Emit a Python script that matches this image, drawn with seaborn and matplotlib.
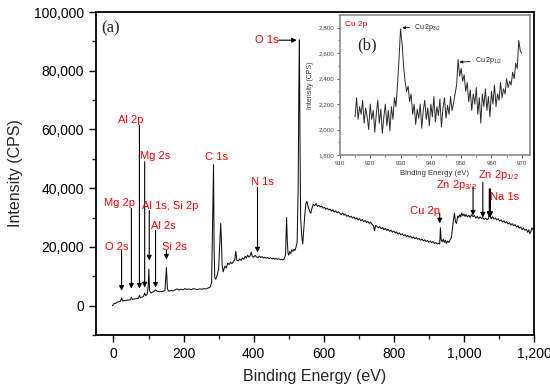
import numpy as np
import pandas as pd
import matplotlib
matplotlib.use("Agg")
import matplotlib.pyplot as plt
from matplotlib.ticker import FuncFormatter, MultipleLocator
import seaborn as sns

# ---------------- data ----------------
survey_be = [-3, 2, 6, 10, 15, 20, 23, 26, 32, 38, 44, 48, 51, 54, 60, 66, 71, 74, 77, 82, 86, 89, 92, 96, 99, 101, 103,
             107, 112, 116, 120, 124, 130, 136, 142, 147, 151, 154, 158, 164, 170, 176, 182, 186, 192, 198, 204, 210,
             216, 222, 228, 234, 240, 246, 252, 258, 264, 270, 276, 280, 283, 285.5, 287, 289, 292, 296, 300, 303, 306,
             308, 310, 313, 318, 322, 326, 330, 334, 338, 342, 346, 349, 352, 356, 360, 364, 368, 372, 376, 379, 383,
             386, 390, 393, 396, 400, 404, 408, 412, 416, 420, 424, 428, 432, 436, 440, 444, 448, 452, 456, 460, 464,
             468, 472, 476, 480, 484, 488, 491, 494, 496, 498, 500, 503, 506, 509, 512, 515, 518, 521, 524, 527, 529,
             530.5, 532, 534, 537, 540, 543, 546, 549, 552, 556, 560, 563, 566, 570, 574, 578, 582, 586, 590, 594, 598,
             602, 606, 610, 614, 618, 622, 626, 630, 634, 638, 642, 646, 650, 654, 658, 662, 666, 670, 674, 678, 682,
             686, 690, 694, 698, 702, 706, 710, 714, 718, 722, 726, 730, 734, 738, 742, 745, 748, 752, 756, 760, 764,
             768, 772, 776, 780, 784, 788, 792, 796, 800, 804, 808, 812, 816, 820, 824, 828, 832, 836, 840, 844, 848,
             852, 856, 860, 864, 868, 872, 876, 880, 884, 888, 892, 896, 900, 904, 908, 912, 916, 920, 924, 928, 931,
             933, 935, 938, 941, 944, 947, 950, 953, 957, 961, 964, 967, 970, 973, 976, 979, 982, 985, 988, 991, 994,
             997, 1000, 1003, 1006, 1010, 1014, 1018, 1022, 1026, 1030, 1034, 1038, 1042, 1046, 1050, 1054, 1058,
             1062, 1066, 1070, 1073, 1075, 1078, 1082, 1086, 1090, 1094, 1098, 1102, 1106, 1110, 1114, 1118, 1122,
             1126, 1130, 1134, 1138, 1142, 1146, 1150, 1154, 1158, 1162, 1166, 1170, 1174, 1178, 1182, 1185, 1188,
             1191, 1194, 1197, 1200]
survey_cps = [0, 800, 700, 1200, 1300, 1500, 2600, 1600, 1700, 1800, 1900, 2000, 2900, 2100, 2300, 2400, 2500, 3500,
              2700, 2900, 3200, 4300, 3400, 3900, 6500, 12500, 5000, 4300, 4600, 4900, 5400, 5000, 4700, 4800, 4900,
              5200, 13000, 5600, 4900, 5200, 5000, 5400, 5700, 5300, 5600, 5400, 5800, 5500, 5700, 5400, 5800, 5600,
              5500, 5700, 5600, 5800, 5700, 6000, 6300, 8000, 30000, 48000, 20000, 9500, 9000, 10500, 12500, 20000,
              28000, 22000, 14000, 11500, 13500, 12800, 14500, 14000, 14800, 14300, 15000, 15600, 18500, 15500, 15200,
              15900, 15400, 16200, 15800, 16800, 16200, 17200, 16500, 17000, 18200, 16800, 16500, 17100, 16600, 16300,
              16900, 16400, 16700, 16200, 16500, 16100, 16400, 16000, 16300, 15900, 16200, 15800, 16100, 15800, 15900,
              15700, 15800, 15600, 16100, 17500, 30000, 22000, 18000, 17200, 18400, 17800, 19000, 18500, 19200, 18800,
              20000, 21500, 40000, 75000, 90500, 60000, 30000, 24000, 21000, 26000, 31000, 34800, 35500, 33500, 32000,
              31500, 33000, 34500, 34000, 34800, 33800, 34200, 33600, 33900, 33200, 33500, 32800, 33200, 32600, 32900,
              32200, 32600, 31900, 32300, 31600, 32000, 31400, 31000, 31600, 30800, 31200, 30400, 30800, 30100, 30500,
              29800, 30200, 29500, 29900, 29200, 29600, 28900, 29300, 28600, 29000, 28300, 28700, 28000, 28400, 27700,
              27200, 25500, 27300, 27000, 26500, 26900, 26200, 26600, 25900, 26300, 25600, 26000, 25300, 25700, 25000,
              25400, 24700, 25100, 24400, 24800, 24100, 24500, 23800, 24200, 23500, 23900, 23300, 23700, 23000, 23400,
              22800, 23200, 22600, 22900, 22300, 22700, 22100, 22400, 21900, 22200, 21600, 22000, 21500, 21800, 21200,
              21500, 21000, 21300, 21000, 26500, 22500, 21800, 22600, 21500, 22300, 21200, 22000, 21500, 22500, 23000,
              26000, 29000, 31500, 28500, 28000, 30500, 30000, 31000, 30200, 31500, 30600, 31200, 30400, 31000, 30200,
              30800, 30000, 31000, 30300, 30700, 29800, 30400, 29600, 30200, 29700, 30000, 29400, 29800, 29300, 29600,
              32000, 30500, 29600, 30300, 29500, 29900, 29200, 29600, 28800, 29200, 28500, 28900, 28200, 28600, 27800,
              28200, 27500, 27900, 27200, 27600, 26800, 27200, 26400, 26800, 25900, 26400, 25700, 26000, 25000, 25800,
              24500, 25200, 26500, 26000, 25200]

cu_be = list(np.arange(915.0, 970.01, 0.5))
cu_cps = [2100, 2250, 2080, 2180, 2120, 2230, 2050, 2170, 2100, 2000, 2200, 2080, 2150, 1980, 2120, 2230, 2050, 2160,
          1970, 2100, 2200, 2030, 2150, 1990, 2180, 2080, 2250, 2180, 2350, 2550, 2790, 2680, 2500, 2380, 2300, 2340,
          2220, 2280, 2120, 2200, 2040, 2160, 2090, 2200, 2010, 2150, 2230, 2080, 2170, 2030, 2200, 2100, 2260, 2060,
          2180, 2110, 2240, 2020, 2170, 2250, 2090, 2190, 2120, 2260, 2150, 2210, 2280, 2350, 2550, 2420, 2480, 2380,
          2430, 2300, 2370, 2220, 2310, 2150, 2280, 2200, 2330, 2120, 2250, 2050, 2280, 2180, 2320, 2150, 2260, 2100,
          2300, 2200, 2350, 2180, 2280, 2230, 2370, 2250, 2320, 2280, 2400, 2330, 2380, 2350, 2450, 2400, 2520, 2480,
          2700, 2620, 2600]

# peak labels
peak_text = ["O 2s", "Mg 2p", "Al 2p", "Mg 2s", "Al 1s, Si 2p", "Al 2s", "Si 2s", "N 1s", "Cu 2p",
             r"Zn 2p$_{3/2}$", r"Zn 2p$_{1/2}$", "Na 1s"]
peak_label_x = [9, 17, 49, 120, 161, 143, 173, 426, 889, 978, 1098, 1117]
peak_label_y = [20100, 34800, 63100, 50800, 33800, 27000, 20100, 42000, 32400, 41000, 44400, 36900]
peak_arrow_x = [23, 51, 74, 89, 102, 120, 151, 411, 931, 1026, 1054, 1074]
peak_arrow_top = [18800, 33100, 61500, 49000, 32400, 25600, 18800, 40300, 31500, 40500, 42000, 39600]
peak_arrow_tip = [5100, 5800, 5800, 6200, 15400, 6100, 15700, 18100, 28000, 30700, 30000, 29700]

x_ticks = [0, 200, 400, 600, 800, 1000, 1200]
y_ticks = [0, 20000, 40000, 60000, 80000, 100000]
inset_x_ticks = [910, 920, 930, 940, 950, 960, 970]
inset_y_ticks = [1800, 2000, 2200, 2400, 2600, 2800]

# ---------------- plot ----------------
sns.set_style("ticks")
plt.rcParams["font.family"] = ["Liberation Sans", "DejaVu Sans"]
plt.rcParams["mathtext.fontset"] = "custom"
plt.rcParams["mathtext.rm"] = "Liberation Sans"
plt.rcParams["mathtext.it"] = "Liberation Sans"

fig = plt.figure(figsize=(5.5, 3.89), dpi=100)
ax = fig.add_axes([0.1745, 0.1388, 0.7964, 0.8303])

df = pd.DataFrame({"be": survey_be, "cps": survey_cps})
sns.lineplot(data=df, x="be", y="cps", ax=ax, color="#111111", lw=0.75, sort=False)

ax.set_xlim(-50, 1200)
ax.set_ylim(-10000, 100000)
ax.set_xticks(x_ticks)
ax.set_yticks(y_ticks)
ax.xaxis.set_minor_locator(MultipleLocator(100))
ax.yaxis.set_minor_locator(MultipleLocator(10000))
comma = FuncFormatter(lambda v, p: f"{v:,.0f}")
ax.xaxis.set_major_formatter(comma)
ax.yaxis.set_major_formatter(comma)
ax.tick_params(axis="both", which="major", direction="out", length=5, width=1.0, labelsize=10, colors="black")
ax.tick_params(axis="both", which="minor", direction="out", length=3, width=1.0)
ax.tick_params(top=False, right=False, which="both")
for s in ax.spines.values():
    s.set_linewidth(1.3)
    s.set_color("black")
ax.set_xlabel("Binding Energy (eV)", fontsize=11.5, labelpad=6)
ax.set_ylabel("Intensity (CPS)", fontsize=11.5, labelpad=8)

ax.text(0.012, 0.975, "(a)", transform=ax.transAxes, ha="left", va="top",
        fontsize=12, family="Liberation Serif")

red = "#ff0000"
for t, lx, ly, axx, y0, y1 in zip(peak_text, peak_label_x, peak_label_y, peak_arrow_x, peak_arrow_top, peak_arrow_tip):
    ax.text(lx, ly, t, color=red, fontsize=8, ha="center", va="center")
    lw = 1.6 if t == "Na 1s" else 0.8
    ax.annotate("", xy=(axx, y1), xytext=(axx, y0),
                arrowprops=dict(arrowstyle="-|>", color="black", lw=lw, mutation_scale=7, shrinkA=0, shrinkB=0))
ax.text(294, 50500, "C 1s", color=red, fontsize=8, ha="center", va="center")
ax.text(437, 90400, "O 1s", color=red, fontsize=8, ha="center", va="center")
ax.annotate("", xy=(523, 90400), xytext=(471, 90400),
            arrowprops=dict(arrowstyle="-|>", color="black", lw=0.8, mutation_scale=7, shrinkA=0, shrinkB=0))

# inset
ax2 = fig.add_axes([0.618, 0.6015, 0.345, 0.36])
df2 = pd.DataFrame({"be": cu_be, "cps": cu_cps})
sns.lineplot(data=df2, x="be", y="cps", ax=ax2, color="#2a2a2a", lw=0.7)
ax2.set_xlim(910, 972.6)
ax2.set_ylim(1800, 2900)
ax2.set_xticks(inset_x_ticks)
ax2.set_yticks(inset_y_ticks)
ax2.xaxis.set_minor_locator(MultipleLocator(5))
ax2.yaxis.set_minor_locator(MultipleLocator(100))
ax2.yaxis.set_major_formatter(comma)
ax2.tick_params(axis="both", which="major", direction="out", length=2.5, width=0.6, labelsize=4.5, colors="#444444", pad=1.5)
ax2.tick_params(axis="both", which="minor", direction="out", length=1.5, width=0.5, colors="#444444")
for s in ax2.spines.values():
    s.set_linewidth(1.2)
    s.set_color("#8a8a8a")
ax2.set_xlabel("Binding Energy (eV)", fontsize=5.5, labelpad=3, color="#333333")
ax2.set_ylabel("Intensity (CPS)", fontsize=5, labelpad=3, color="#333333")
ax2.text(0.025, 0.96, "Cu 2p", transform=ax2.transAxes, color=red, fontsize=6, ha="left", va="top")
ax2.text(0.09, 0.84, "(b)", transform=ax2.transAxes, fontsize=12, ha="left", va="top", family="Liberation Serif")
ax2.annotate(r"Cu 2p$_{3/2}$", xy=(930.6, 2800), xytext=(934.5, 2800), fontsize=5, va="center", color="#222222",
             arrowprops=dict(arrowstyle="-|>", color="black", lw=0.6, mutation_scale=4, shrinkA=1, shrinkB=0))
ax2.annotate(r"Cu 2p$_{1/2}$", xy=(949.5, 2530), xytext=(954.5, 2540), fontsize=5, va="center", color="#222222",
             arrowprops=dict(arrowstyle="-|>", color="black", lw=0.6, mutation_scale=4, shrinkA=1, shrinkB=0))

fig.savefig("out.png", dpi=100)
